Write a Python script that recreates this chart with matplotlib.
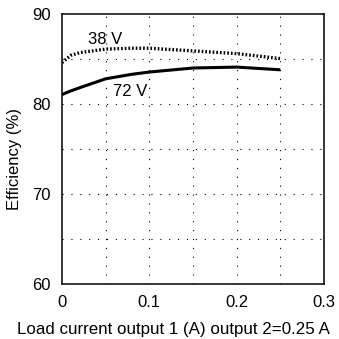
import matplotlib
matplotlib.use("Agg")
import matplotlib.pyplot as plt
import numpy as np

plt.rcParams['font.family'] = ['Liberation Sans', 'DejaVu Sans']

load_a = [0.0, 0.01, 0.02, 0.05, 0.08, 0.1, 0.15, 0.2, 0.25]
eff_38v = [84.6, 85.4, 85.7, 86.1, 86.2, 86.2, 85.9, 85.6, 85.05]
eff_72v = [81.05, 81.45, 81.8, 82.8, 83.3, 83.55, 84.0, 84.1, 83.8]

xticks = [0, 0.1, 0.2, 0.3]
xticklabels = ['0', '0.1', '0.2', '0.3']
yticks = [60, 70, 80, 90]
xgrid = [0.05, 0.1, 0.15, 0.2, 0.25]
ygrid = [65, 70, 75, 80, 85]

fig = plt.figure(figsize=(3.39, 3.39), dpi=100)
ax = fig.add_axes([62/339, 1-284/339, (324-62)/339, (284-14)/339])

for gx in xgrid:
    ax.axvline(gx, color='black', linestyle=(0, (1, 7)), lw=0.8, zorder=1)
for gy in ygrid:
    ax.axhline(gy, color='black', linestyle=(0, (1, 7)), lw=0.8, zorder=1)

ax.plot(load_a, eff_38v, color='black', lw=2.4, linestyle=(0, (0.5, 0.6)), dash_capstyle='butt', zorder=3)
ax.plot(load_a, eff_72v, color='black', lw=2.2, solid_capstyle='butt', zorder=3)

ax.set_xlim(0, 0.3)
ax.set_ylim(60, 90)
ax.set_xticks(xticks)
ax.set_xticklabels(xticklabels)
ax.set_yticks(yticks)
ax.tick_params(which='both', length=0, labelsize=12, pad=8)
for s in ax.spines.values():
    s.set_linewidth(1.1)

ax.text(0.03, 87.2, '38 V', fontsize=12, va='center', ha='left')
ax.text(0.058, 81.4, '72 V', fontsize=12, va='center', ha='left')

fig.text(15/339, 1-158.5/339, 'Efficiency (%)', fontsize=12, rotation=90,
         ha='center', va='center')
fig.text(173.5/339, 1-334/339, 'Load current output 1 (A) output 2=0.25 A',
         fontsize=12.2, ha='center', va='baseline')

fig.savefig('out.png', dpi=100)
